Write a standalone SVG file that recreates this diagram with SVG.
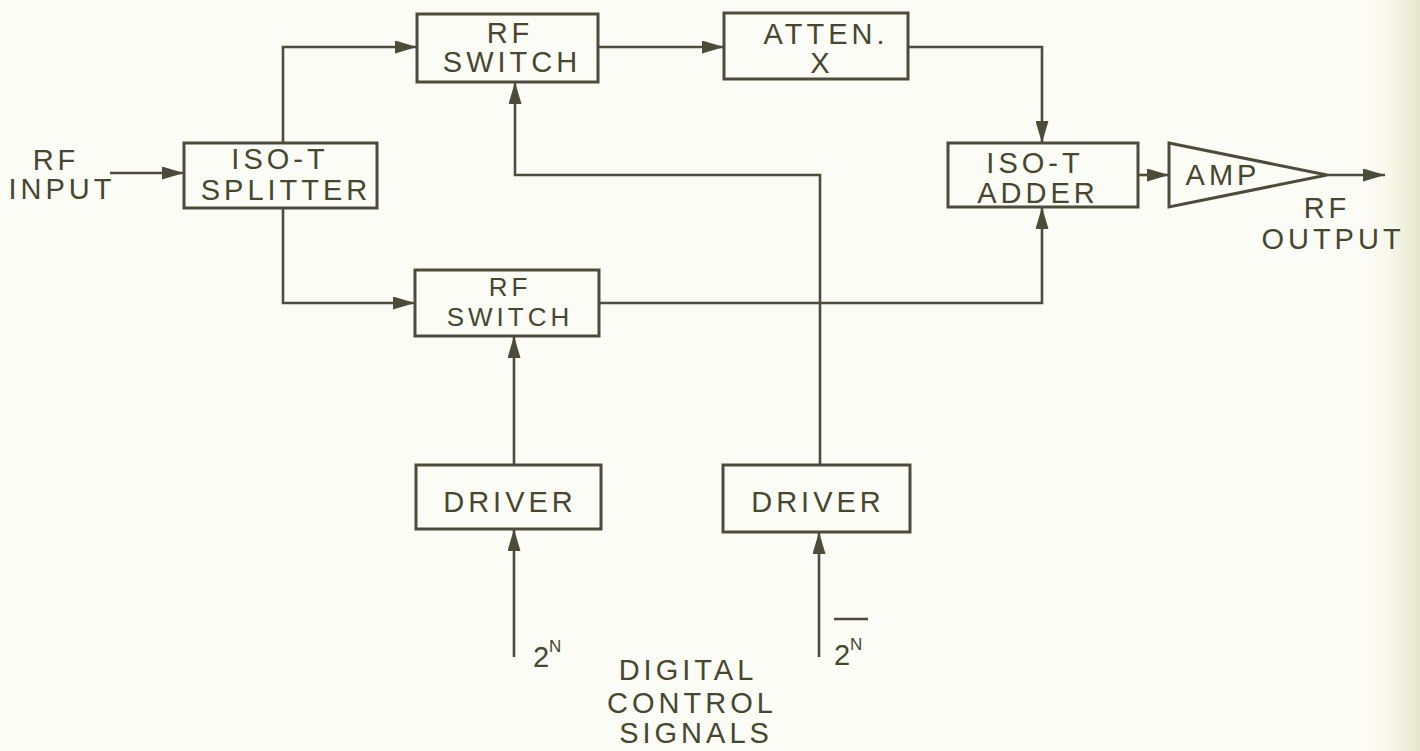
<svg xmlns="http://www.w3.org/2000/svg" width="1420" height="751" viewBox="0 0 1420 751">
<defs>
<style>
.bg{fill:#fcfcf6}
.box{fill:none;stroke:#4c4c3c;stroke-width:3}
.wire{fill:none;stroke:#4c4c3c;stroke-width:2.6}
.t{font-family:"Liberation Sans",Arial,sans-serif;font-size:29px;fill:#47472f;text-anchor:middle;letter-spacing:4px}
.s{font-size:26px}
.sup{font-family:"Liberation Sans",Arial,sans-serif;font-size:17px;fill:#47472f}
</style>
<marker id="ah" viewBox="0 0 22 13" refX="22" refY="6.5" markerWidth="22" markerHeight="13" markerUnits="userSpaceOnUse" orient="auto">
<path d="M0,0 L22,6.5 L0,13 Z" fill="#4c4c3c"/>
</marker>
<linearGradient id="edge" x1="0" x2="1" y1="0" y2="0">
<stop offset="0" stop-color="#fcfcf6" stop-opacity="0"/>
<stop offset="1" stop-color="#e4e6c8"/>
</linearGradient>
</defs>
<rect class="bg" x="0" y="0" width="1420" height="751"/>
<rect x="1360" y="0" width="60" height="751" fill="url(#edge)"/>

<g id="connectors">
<path class="wire" d="M110,173 L184,173" marker-end="url(#ah)"/>
<path class="wire" d="M283,143 L283,47 L417,47" marker-end="url(#ah)"/>
<path class="wire" d="M283,208 L283,303 L415,303" marker-end="url(#ah)"/>
<path class="wire" d="M598,47 L724,47" marker-end="url(#ah)"/>
<path class="wire" d="M908,47 L1042,47 L1042,143" marker-end="url(#ah)"/>
<path class="wire" d="M599,303 L1042,303 L1042,207" marker-end="url(#ah)"/>
<path class="wire" d="M820,465 L820,175 L515,175 L515,82" marker-end="url(#ah)"/>
<path class="wire" d="M514,465 L514,336" marker-end="url(#ah)"/>
<path class="wire" d="M514,657 L514,529" marker-end="url(#ah)"/>
<path class="wire" d="M819,657 L819,532" marker-end="url(#ah)"/>
<path class="wire" d="M1138,175 L1169,175" marker-end="url(#ah)"/>
<path class="wire" d="M1327,175 L1385,175" marker-end="url(#ah)"/>
</g>

<g id="rf-input">
<text class="t" x="56" y="170">RF</text>
<text class="t" x="62" y="199">INPUT</text>
</g>

<g id="splitter">
<rect class="box" x="184" y="143" width="193" height="65"/>
<text class="t" x="280" y="169">ISO-T</text>
<text class="t" x="286" y="200">SPLITTER</text>
</g>

<g id="rf-switch-top">
<rect class="box" x="417" y="14" width="181" height="68"/>
<text class="t" x="510" y="43">RF</text>
<text class="t" x="512" y="72">SWITCH</text>
</g>

<g id="rf-switch-bottom">
<rect class="box" x="415" y="270" width="184" height="66"/>
<text class="t s" x="510" y="296">RF</text>
<text class="t s" x="510" y="326">SWITCH</text>
</g>

<g id="atten">
<rect class="box" x="724" y="13" width="184" height="66"/>
<text class="t" x="826" y="44">ATTEN.</text>
<text class="t" x="822" y="73">X</text>
</g>

<g id="adder">
<rect class="box" x="948" y="143" width="190" height="64"/>
<text class="t" x="1035" y="173">ISO-T</text>
<text class="t" x="1038" y="203">ADDER</text>
</g>

<g id="amp">
<path class="box" d="M1169,143 L1327,175 L1169,207 Z"/>
<text class="t" x="1223" y="185">AMP</text>
</g>

<g id="rf-output">
<text class="t" x="1327" y="218">RF</text>
<text class="t" x="1333" y="249">OUTPUT</text>
</g>

<g id="driver-1">
<rect class="box" x="416" y="465" width="185" height="64"/>
<text class="t" x="510" y="512">DRIVER</text>
</g>

<g id="driver-2">
<rect class="box" x="723" y="465" width="187" height="67"/>
<text class="t" x="818" y="512">DRIVER</text>
</g>

<g id="signal-labels">
<text class="t" x="541" y="667" style="letter-spacing:0">2</text>
<text class="sup" x="549" y="652">N</text>
<text class="t" x="842" y="665" style="letter-spacing:0">2</text>
<text class="sup" x="850" y="650">N</text>
<line class="wire" x1="834" y1="619" x2="868" y2="619"/>
<text class="t" x="688" y="680">DIGITAL</text>
<text class="t" x="692" y="713">CONTROL</text>
<text class="t" x="696" y="743">SIGNALS</text>
</g>
</svg>
